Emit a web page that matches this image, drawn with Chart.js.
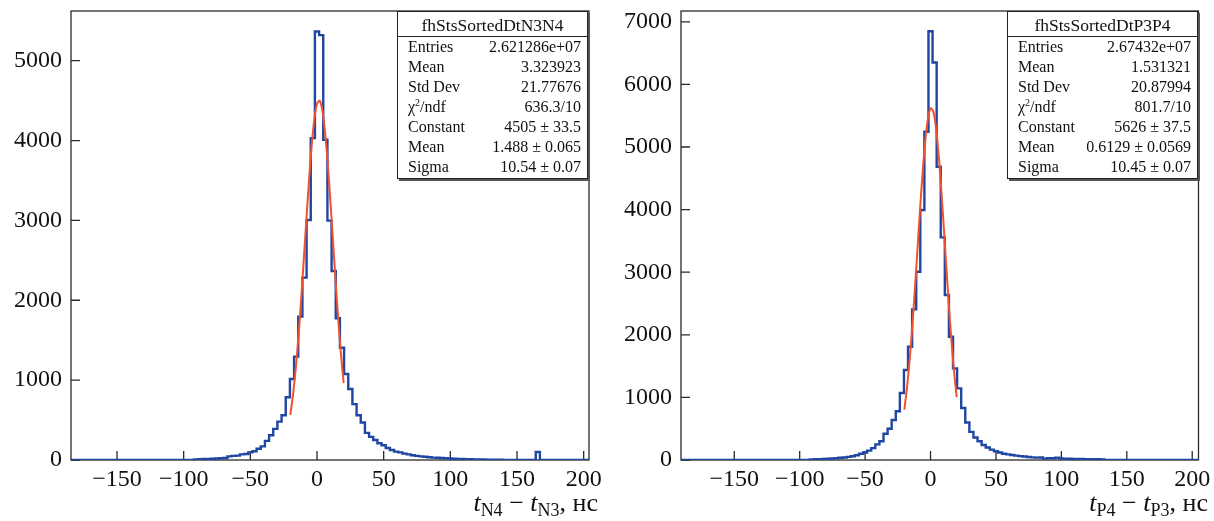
<!DOCTYPE html>
<html lang="ru">
<head>
<meta charset="UTF-8">
<title>fhStsSortedDt N3N4 / P3P4</title>
<script src="https://cdn.jsdelivr.net/npm/chart.js"></script>
<style>
  body { margin: 0; background: #fff; font-family: "Liberation Serif", "DejaVu Serif", serif; color: #111; }
  .panel { position: absolute; top: 0; width: 607px; height: 521px; }
  #panelLeft { left: 0; }
  #panelRight { left: 607px; }
  .stats { position: absolute; background: #fff; border: 1px solid #222; box-shadow: 2px 2px 0 #555;
           font-size: 16px; box-sizing: border-box; }
  .stats .title { text-align: center; font-size: 17.5px; height: 24px; line-height: 26px; border-bottom: 1px solid #222; }
  .stats .row { display: flex; justify-content: space-between; height: 20px; line-height: 20px; padding: 0 6px 0 10px; }
  .stats sup { font-size: 10px; line-height: 0; vertical-align: 6px; }
  .axis-title { position: absolute; top: 488px; font-size: 26px; line-height: 30px; white-space: nowrap; }
  .axis-title sub { font-size: 18px; vertical-align: -5px; line-height: 0; }
</style>
</head>
<body>
  <div class="panel" id="panelLeft"><canvas id="chartLeft"></canvas></div>
  <div class="panel" id="panelRight"><canvas id="chartRight"></canvas></div>

  <div class="stats" style="left:397px; top:11px; width:191px; height:168px;">
    <div class="title">fhStsSortedDtN3N4</div>
    <div class="row"><span>Entries</span><span>2.621286e+07</span></div>
    <div class="row"><span>Mean</span><span>3.323923</span></div>
    <div class="row"><span>Std Dev</span><span>21.77676</span></div>
    <div class="row"><span>χ<sup>2</sup>/ndf</span><span>636.3/10</span></div>
    <div class="row"><span>Constant</span><span>4505 ± 33.5</span></div>
    <div class="row"><span>Mean</span><span>1.488 ± 0.065</span></div>
    <div class="row"><span>Sigma</span><span>10.54 ± 0.07</span></div>
  </div>
  <div class="stats" style="left:1007px; top:11px; width:191px; height:168px;">
    <div class="title">fhStsSortedDtP3P4</div>
    <div class="row"><span>Entries</span><span>2.67432e+07</span></div>
    <div class="row"><span>Mean</span><span>1.531321</span></div>
    <div class="row"><span>Std Dev</span><span>20.87994</span></div>
    <div class="row"><span>χ<sup>2</sup>/ndf</span><span>801.7/10</span></div>
    <div class="row"><span>Constant</span><span>5626 ± 37.5</span></div>
    <div class="row"><span>Mean</span><span>0.6129 ± 0.0569</span></div>
    <div class="row"><span>Sigma</span><span>10.45 ± 0.07</span></div>
  </div>

  <div class="axis-title" style="right:616px;"><i>t</i><sub>N4</sub> − <i>t</i><sub>N3</sub>, нс</div>
  <div class="axis-title" style="right:6px;"><i>t</i><sub>P4</sub> − <i>t</i><sub>P3</sub>, нс</div>

<script>
  // histogram bins: width 3.125 ns, first bin centred at -29 * 3.125
  const binWidth = 3.125;
  const firstBin = -29;

  const leftCounts = [
    8, 10, 12, 14, 15, 18, 22, 25, 45, 52,
    55, 70, 75, 95, 110, 140, 170, 240, 310, 390,
    480, 560, 785, 1014, 1294, 1795, 2283, 3005, 4030, 5365,
    5320, 4010, 2997, 2366, 1774, 1406, 1077, 889, 700, 560,
    470, 340, 290, 250, 210, 185, 150, 125, 105, 95,
    80, 70, 60, 52, 45, 40, 35, 30, 28, 25,
    22, 18, 16, 14, 12, 10, 9, 8, 7, 6,
    5, 4, 3, 3, 2, 2, 2, 2, 2, 2,
    2, 2, 100, 1, 1, 1, 1, 1, 1, 1,
    1, 1, 1, 1, 1
  ];

  const rightCounts = [
    10, 12, 14, 18, 20, 25, 28, 35, 40, 50,
    60, 75, 100, 120, 150, 190, 250, 300, 420, 500,
    640, 780, 1070, 1438, 1810, 2407, 3008, 3994, 5245, 6850,
    6350, 4686, 3557, 2636, 1970, 1464, 1145, 830, 600, 450,
    360, 300, 240, 200, 165, 140, 120, 100, 90, 80,
    70, 62, 55, 48, 42, 38, 40, 22, 30, 28,
    38, 25, 22, 20, 18, 16, 15, 14, 13, 12,
    11, 10, 2, 2, 2, 2, 2, 2, 2, 2,
    2, 2, 2, 2, 2, 2, 2, 2, 2, 2,
    2, 2, 2, 2, 2
  ];

  // gaussian fit curves at 2 ns steps
  const fitX = [-20, -18, -16, -14, -12, -10, -8, -6, -4, -2, 0, 2, 4, 6, 8, 10, 12, 14, 16, 18, 20];
  const leftFit = [564, 815, 1138, 1530, 1987, 2488, 3004, 3500, 3934, 4265, 4460, 4500, 4379, 4110, 3722, 3251, 2740, 2227, 1746, 1320, 964];
  const rightFit = [804, 1152, 1590, 2117, 2716, 3359, 4006, 4605, 5104, 5453, 5616, 5577, 5338, 4926, 4382, 3758, 3107, 2477, 1903, 1410, 1006];

  const xTicks = [-150, -100, -50, 0, 50, 100, 150, 200];
  const leftYTicks = [0, 1000, 2000, 3000, 4000, 5000];
  const rightYTicks = [0, 1000, 2000, 3000, 4000, 5000, 6000, 7000];

  Chart.defaults.font.family = '"Liberation Serif", serif';
  Chart.defaults.color = '#111';

  function histPoints(counts, xmin) {
    const pts = [{x: xmin, y: 0}];
    counts.forEach((c, i) => {
      const centre = (firstBin + i) * binWidth;
      pts.push({x: centre - binWidth / 2, y: c});
    });
    const lastEdge = (firstBin + counts.length - 1) * binWidth + binWidth / 2;
    pts.push({x: lastEdge, y: counts[counts.length - 1]});
    return pts;
  }

  // ROOT-like frame with inward tick marks
  const frameTicks = {
    id: 'frameTicks',
    beforeDatasetsDraw(chart) {
      const {ctx, chartArea: a, scales} = chart;
      ctx.save();
      ctx.strokeStyle = '#2a2a2a';
      ctx.lineWidth = 1.3;
      ctx.strokeRect(a.left, a.top, a.right - a.left, a.bottom - a.top);
      ctx.beginPath();
      scales.x.ticks.forEach(t => {
        const px = scales.x.getPixelForValue(t.value);
        ctx.moveTo(px, a.bottom);
        ctx.lineTo(px, a.bottom - 9);
      });
      scales.y.ticks.forEach(t => {
        const py = scales.y.getPixelForValue(t.value);
        ctx.moveTo(a.left, py);
        ctx.lineTo(a.left + 9, py);
      });
      ctx.stroke();
      ctx.restore();
    }
  };

  function makeChart(id, counts, fit, yTicks, cfg) {
    const ctx = document.getElementById(id).getContext('2d');
    return new Chart(ctx, {
      type: 'line',
      data: {
        datasets: [
          {
            label: 'fit',
            data: fitX.map((x, i) => ({x: x, y: fit[i]})),
            borderColor: '#f2512c',
            borderWidth: 2,
            pointRadius: 0,
            tension: 0.3,
            fill: false
          },
          {
            label: 'hist',
            data: histPoints(counts, cfg.xmin),
            borderColor: '#1f46a3',
            borderWidth: 2.4,
            pointRadius: 0,
            stepped: 'before',
            fill: false
          }
        ]
      },
      options: {
        responsive: true,
        maintainAspectRatio: false,
        animation: false,
        layout: { padding: { top: 11, right: cfg.padRight, left: 0, bottom: 0 } },
        plugins: { legend: { display: false }, tooltip: { enabled: false } },
        scales: {
          x: {
            type: 'linear',
            min: cfg.xmin,
            max: cfg.xmax,
            grid: { display: false, drawTicks: false },
            border: { display: false },
            afterBuildTicks: s => { s.ticks = xTicks.map(v => ({value: v})); },
            afterFit: s => { s.height = 61; s.paddingLeft = 0; s.paddingRight = 0; },
            ticks: {
              font: { size: 24 },
              padding: 5,
              maxRotation: 0,
              autoSkip: false,
              callback: v => v < 0 ? '\u2212' + Math.abs(v) : String(v)
            }
          },
          y: {
            type: 'linear',
            min: 0,
            max: cfg.ymax,
            grid: { display: false, drawTicks: false },
            border: { display: false },
            afterBuildTicks: s => { s.ticks = yTicks.map(v => ({value: v})); },
            afterFit: s => { s.width = cfg.yWidth; s.paddingTop = 0; s.paddingBottom = 0; },
            ticks: { font: { size: 24 }, padding: 9, autoSkip: false, callback: v => String(v) }
          }
        }
      },
      plugins: [frameTicks]
    });
  }

  makeChart('chartLeft', leftCounts, leftFit, leftYTicks,
    { xmin: -184.5, xmax: 204, ymax: 5622, yWidth: 71, padRight: 18 });
  makeChart('chartRight', rightCounts, rightFit, rightYTicks,
    { xmin: -190.7, xmax: 204.8, ymax: 7173, yWidth: 74, padRight: 15.5 });
</script>
</body>
</html>
